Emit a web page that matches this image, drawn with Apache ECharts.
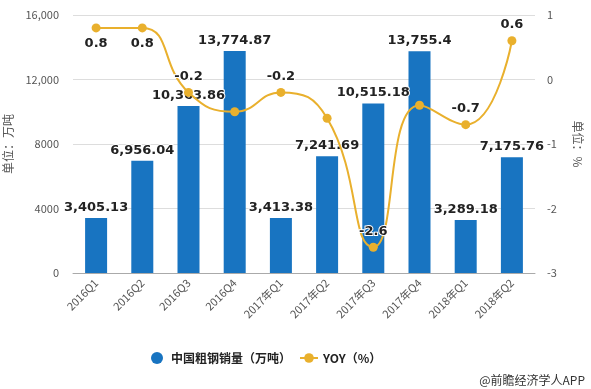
<!DOCTYPE html>
<html>
<head>
<meta charset="utf-8">
<script src="https://cdn.jsdelivr.net/npm/echarts@6/dist/echarts.min.js"></script>
<style>html,body{margin:0;padding:0;background:#fff;}#c{width:591px;height:389px;}</style>
</head>
<body>
<div id="c"></div>
<script>
var categories = ['2016Q1','2016Q2','2016Q3','2016Q4','2017年Q1','2017年Q2','2017年Q3','2017年Q4','2018年Q1','2018年Q2'];
var salesValues = [3405.13, 6956.04, 10363.86, 13774.87, 3413.38, 7241.69, 10515.18, 13755.4, 3289.18, 7175.76];
var yoyValues = [0.8, 0.8, -0.2, -0.5, -0.2, -0.6, -2.6, -0.4, -0.7, 0.6];
var yoyLabelShown = [true, true, true, false, true, false, true, false, true, true];
var yoyLabelBelow = [true, true, false, false, false, false, false, false, false, false];
var leftTicks = [0, 4000, 8000, 12000, 16000];
var rightTicks = [-3, -2, -1, 0, 1];

var chart = echarts.init(document.getElementById('c'), null, {renderer: 'canvas'});
var labelFont = {fontFamily: 'DejaVu Sans', fontWeight: 'bold', fontSize: 13, color: '#222', textBorderColor: '#fff', textBorderWidth: 2};
var fmt = function (v) {
  var s = v.toFixed(2).replace(/0+$/, '').replace(/\.$/, '');
  var parts = s.split('.');
  parts[0] = parts[0].replace(/\B(?=(\d{3})+(?!\d))/g, ',');
  return parts.join('.');
};
chart.setOption({
  animation: false,
  textStyle: {fontFamily: 'Noto Sans CJK SC'},
  grid: {left: 73, right: 56, top: 15, bottom: 116, containLabel: false, outerBoundsMode: 'none'},
  legend: {
    bottom: 20, left: 146, itemGap: 8, itemWidth: 18, itemHeight: 12,
    textStyle: {fontSize: 12, fontWeight: 'bold', color: '#222', fontFamily: 'Noto Sans CJK SC'},
    data: [{name: '中国粗钢销量（万吨）', icon: 'circle'}, {name: 'YOY（%）'}]
  },
  graphic: [{
    type: 'text', right: 6, bottom: 3,
    style: {text: '@前瞻经济学人APP', fontSize: 12, fill: '#333', fontFamily: 'Noto Sans CJK SC'}
  }],
  xAxis: {
    type: 'category', data: categories,
    axisLine: {lineStyle: {color: '#aaa'}},
    axisTick: {alignWithLabel: true, lineStyle: {color: '#aaa'}},
    axisLabel: {rotate: 45, fontSize: 11, color: '#555', interval: 0, margin: 8}
  },
  yAxis: [{
    type: 'value', min: leftTicks[0], max: leftTicks[leftTicks.length - 1], interval: 4000,
    name: '单位：万吨', nameLocation: 'middle', nameGap: 57, nameRotate: 90,
    nameTextStyle: {fontSize: 12, color: '#555'},
    axisLine: {show: false}, axisTick: {show: false},
    axisLabel: {fontSize: 11, color: '#555', margin: 14, formatter: function (v) { return v >= 10000 ? fmt(v) : String(v); }},
    splitLine: {lineStyle: {color: '#ddd'}}
  }, {
    type: 'value', min: rightTicks[0], max: rightTicks[rightTicks.length - 1], interval: 1,
    name: '单位：%', nameLocation: 'middle', nameGap: 37, nameRotate: -90,
    nameTextStyle: {fontSize: 12, color: '#555'},
    axisLine: {show: false}, axisTick: {show: false},
    axisLabel: {fontSize: 11, color: '#555', margin: 12},
    splitLine: {show: false}
  }],
  series: [{
    name: '中国粗钢销量（万吨）', type: 'bar', barWidth: 22, yAxisIndex: 0,
    itemStyle: {color: '#1874c1'},
    label: Object.assign({show: true, position: 'top', distance: 4, formatter: function (p) { return fmt(p.value); }}, labelFont),
    data: salesValues
  }, {
    name: 'YOY（%）', type: 'line', yAxisIndex: 1, smooth: true,
    symbol: 'circle', symbolSize: 9, z: 3,
    itemStyle: {color: '#e9b02d'}, lineStyle: {color: '#e9b02d', width: 2},
    data: yoyValues.map(function (v, i) {
      return {
        value: v,
        label: Object.assign({show: yoyLabelShown[i], position: yoyLabelBelow[i] ? 'bottom' : 'top', distance: 5,
          formatter: function (p) { return String(p.value); }}, labelFont)
      };
    })
  }]
});
</script>
</body>
</html>
